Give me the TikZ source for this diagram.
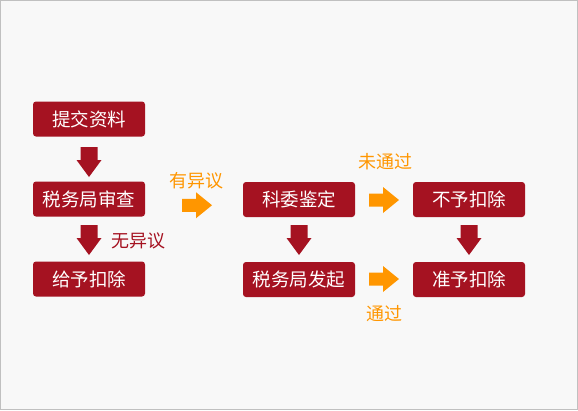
\documentclass[tikz,border=0pt]{standalone}
\usepackage{fontspec}
\setmainfont{Noto Sans CJK SC}
\usetikzlibrary{calc}
\definecolor{redc}{RGB}{165,18,33}
\definecolor{orangec}{RGB}{255,150,0}
\definecolor{bgc}{RGB}{248,248,248}
\definecolor{framec}{RGB}{192,192,192}
\tikzset{
  box/.style={fill=redc, rounded corners=3pt, minimum width=112pt, minimum height=35pt,
    inner sep=0pt, text=white, font=\fontsize{18.5}{22}\selectfont},
  lbl/.style={inner sep=0pt, font=\fontsize{18}{22}\selectfont},
  olbl/.style={lbl, text=orangec},
  rlbl/.style={lbl, text=redc},
}
\newcommand\blkdown[3]{%
  \fill[redc] ($(#1.south)!0.5!(#2.north)+(#3)+(-8.5,-15)$) -- ++(17,0) -- ++(0,13) -- ++(4,0)
    -- ++(-12.5,17) -- ++(-12.5,-17) -- ++(4,0) -- cycle;}
\newcommand\blkright[3]{%
  \fill[orangec] ($(#1.east)!0.5!(#2.west)+(#3)+(-15,-6.5)$) -- ++(14,0) -- ++(0,-6.5)
    -- ++(16,13) -- ++(-16,13) -- ++(0,-6.5) -- ++(-14,0) -- cycle;}
\begin{document}
\begin{tikzpicture}[x=1pt,y=-1pt]
\useasboundingbox (0,0) rectangle (578,410);
\fill[bgc] (0,0) rectangle (578,410);
\draw[framec, line width=1pt] (0.5,0.5) rectangle (577.5,409.5);
\node[box] (n1) at (89,119) {提交资料};
\node[box] (n2) at (89,199) {税务局审查};
\node[box] (n3) at (89,279) {给予扣除};
\node[box] (n4) at (299,199.5) {科委鉴定};
\node[box] (n5) at (469,199.5) {不予扣除};
\node[box] (n6) at (299,279.5) {税务局发起};
\node[box] (n7) at (469,279.5) {准予扣除};
\blkdown{n1}{n2}{0,3}
\blkdown{n2}{n3}{0,1}
\blkdown{n4}{n6}{0,0.5}
\blkdown{n5}{n7}{0,0.5}
\blkright{n2}{n4}{3,6}
\blkright{n4}{n5}{0,0.5}
\blkright{n6}{n7}{0,-0.5}
\node[olbl] (l1) at (196,181) {有异议};
\node[rlbl] (l2) at (138.5,241) {无异议};
\node[olbl] (l3) at (385,162) {未通过};
\node[olbl] (l4) at (384.5,314) {通过};
\end{tikzpicture}
\end{document}
